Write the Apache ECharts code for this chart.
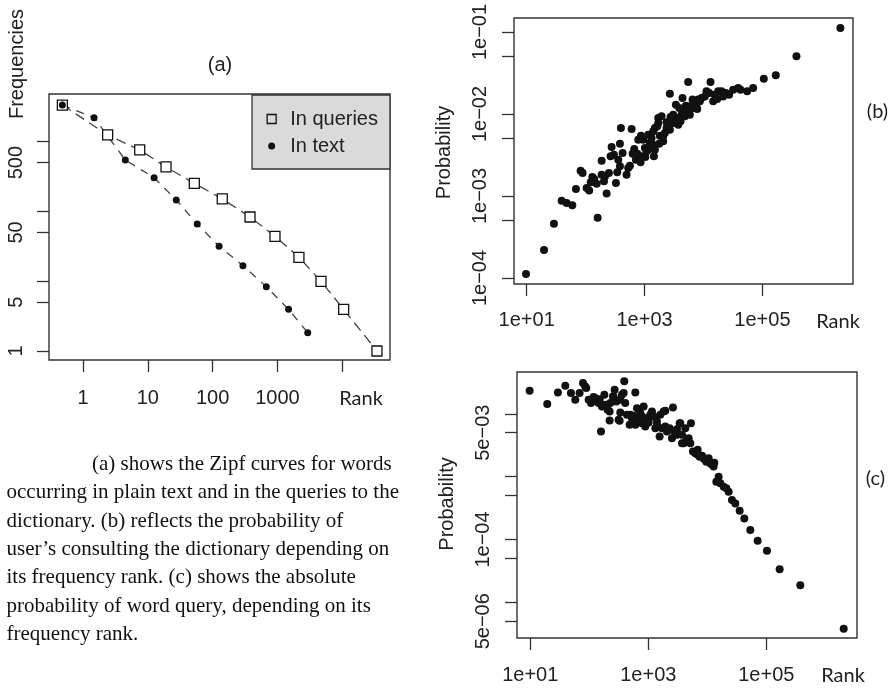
<!DOCTYPE html>
<html><head><meta charset="utf-8">
<script src="https://cdn.jsdelivr.net/npm/echarts@6/dist/echarts.min.js"></script>
<style>html,body{margin:0;padding:0;background:#fff}#c{width:892px;height:689px}</style>
</head><body><div id="c"></div>
<script>
// ---------- Panel (a): Zipf curves ----------
const rankQueries = [0.48, 2.4, 7.5, 19.1, 52.2, 141, 378, 918, 2150, 4710, 10540, 34400];
const freqQueries = [3340, 1245, 759, 433, 252, 151, 83.2, 44, 22, 9.95, 3.95, 1];
const rankText = [0.48, 1.48, 4.5, 12.5, 27.5, 58, 126, 294, 675, 1490, 2940];
const freqText = [3340, 2200, 545, 304, 146, 66, 31.6, 16.7, 8.34, 3.95, 1.83];
const tickA_x = [1, 10, 100, 1000, 10000];
const labelA_x = [1, 10, 100, 1000];
const tickA_y = [1, 5, 10, 50, 100, 500, 1000];
const labelA_y = [1, 5, 50, 500];

// ---------- Panel (b): probability of consulting vs rank ----------
const rankB = [9.75, 19.7, 29.0, 39.2, 47.6, 59.4, 68.5, 82.2, 88.9, 104, 115, 130, 140, 154, 160, 187, 187, 213, 227, 248,
  276, 265, 302, 327, 344, 382, 397, 424, 495, 528, 564, 603, 668, 713, 812, 925, 1026, 782, 867, 1153,
  1231, 1496, 1640, 1706, 5495, 13150, 2685, 105400, 168300, 4406, 3396, 11250, 12470, 9250, 10540, 15560, 17740, 20180, 23930, 27230,
  31840, 38730, 42360, 54950, 69500, 14590, 8670, 7600, 6683, 5861, 4519, 5152, 4236, 4831, 1941, 3062, 3483, 3062, 3724, 5861,
  1706, 1496, 1403, 2360, 2685, 2213, 2070, 1820, 948, 1403, 1153, 1014, 376700, 2100000, 358, 205, 122, 752, 855, 1081,
  1315, 1439, 1774, 2070, 2360, 2760, 3873, 5023, 8128, 17060, 21530, 7816, 6516, 4074, 382, 627];
const probB = [1.12e-4, 2.19e-4, 4.60e-4, 8.77e-4, 8.22e-4, 7.69e-4, 1.22e-3, 2.04e-3, 1.91e-3, 1.25e-3, 1.17e-3, 1.71e-3, 1.61e-3, 1.41e-3, 5.44e-4, 2.70e-3, 1.82e-3, 1.74e-3, 1.07e-3, 1.91e-3,
  3.96e-3, 3.05e-3, 3.19e-3, 1.44e-3, 1.95e-3, 4.35e-3, 6.75e-3, 3.34e-3, 1.82e-3, 2.19e-3, 2.34e-3, 6.56e-3, 3.74e-3, 2.77e-3, 2.99e-3, 3.05e-3, 2.99e-3, 4.86e-3, 5.44e-3, 5.60e-3,
  4.43e-3, 3.67e-3, 7.08e-3, 8.93e-3, 2.45e-2, 2.45e-2, 1.77e-2, 2.70e-2, 2.96e-2, 1.57e-2, 1.30e-2, 1.89e-2, 1.80e-2, 1.57e-2, 1.64e-2, 1.72e-2, 1.89e-2, 1.89e-2, 1.80e-2, 1.72e-2,
  1.98e-2, 2.07e-2, 1.98e-2, 1.89e-2, 2.07e-2, 1.43e-2, 1.43e-2, 1.30e-2, 1.18e-2, 1.24e-2, 1.13e-2, 1.08e-2, 9.82e-3, 9.38e-3, 9.38e-3, 9.82e-3, 8.93e-3, 7.76e-3, 7.41e-3, 9.82e-3,
  7.76e-3, 6.75e-3, 6.15e-3, 6.75e-3, 6.44e-3, 5.86e-3, 5.35e-3, 5.44e-3, 4.86e-3, 4.23e-3, 3.67e-3, 3.85e-3, 5.05e-2, 1.12e-1, 2.77e-3, 1.51e-3, 1.47e-3, 3.28e-3, 2.58e-3, 3.51e-3,
  5.09e-3, 3.05e-3, 4.35e-3, 4.65e-3, 7.91e-3, 9.18e-3, 1.18e-2, 1.26e-2, 1.50e-2, 1.52e-2, 1.64e-2, 1.15e-2, 1.50e-2, 8.15e-3, 2.30e-3, 3.28e-3];

// ---------- Panel (c): absolute probability of query vs rank ----------
const rankC = [9.75, 19.4, 29.4, 39.2, 48.9, 57.9, 68.5, 78.2, 88.9, 97.5, 107, 118, 135, 150, 158, 164, 180, 187, 205, 221,
  227, 252, 269, 287, 314, 335, 358, 392, 407, 435, 483, 528, 564, 603, 643, 686, 731, 782, 834, 889,
  948, 1014, 1081, 1153, 1230, 1315, 1403, 1556, 1596, 1706, 1820, 1941, 2070, 2301, 2518, 2618, 2761, 3062, 3396, 3724,
  3972, 4236, 4519, 4831, 5284, 5152, 5715, 6266, 6855, 7413, 8128, 8892, 9616, 10540, 11540, 12790, 13150, 15560, 14220, 16600,
  18920, 20990, 23010, 26180, 29850, 35320, 42360, 53580, 71290, 102600, 168300, 376700, 2050000,
  85.5, 126, 144, 258, 335, 382, 221, 327, 495, 782, 1403, 603, 1941, 3483, 3062, 3724, 6683, 8670];
const probC = [2.33e-2, 1.43e-2, 2.19e-2, 2.80e-2, 2.14e-2, 1.67e-2, 2.14e-2, 3.08e-2, 2.57e-2, 1.67e-2, 1.48e-2, 1.85e-2, 1.57e-2, 1.71e-2, 5.22e-3, 1.31e-2, 2.01e-2, 1.39e-2, 1.16e-2, 7.83e-3,
  1.48e-2, 1.89e-2, 2.42e-2, 1.57e-2, 8.02e-3, 1.05e-2, 2.01e-2, 3.28e-2, 1.48e-2, 9.64e-3, 6.67e-3, 8.53e-3, 9.29e-3, 2.19e-2, 1.23e-2, 8.02e-3, 1.03e-2, 7.10e-3, 1.31e-2, 6.28e-3,
  8.53e-3, 7.28e-3, 9.64e-3, 1.09e-2, 9.06e-3, 5.90e-3, 7.55e-3, 4.35e-3, 9.64e-3, 5.90e-3, 1.09e-2, 6.28e-3, 5.22e-3, 5.90e-3, 4.09e-3, 1.26e-2, 5.22e-3, 5.69e-3, 7.10e-3, 4.62e-3,
  3.40e-3, 5.90e-3, 3.85e-3, 4.09e-3, 7.10e-3, 3.40e-3, 2.51e-3, 2.36e-3, 2.67e-3, 2.08e-3, 2.14e-3, 1.89e-3, 1.73e-3, 1.96e-3, 1.59e-3, 1.45e-3, 1.67e-3, 1.00e-3, 8.32e-4, 7.83e-4,
  6.92e-4, 6.51e-4, 5.77e-4, 4.25e-4, 3.75e-4, 2.86e-4, 2.16e-4, 1.41e-4, 9.53e-5, 6.59e-5, 3.37e-5, 1.87e-5, 3.80e-6,
  2.73e-2, 1.78e-2, 1.48e-2, 1.89e-2, 1.67e-2, 2.14e-2, 1.09e-2, 7.73e-3, 9.64e-3, 9.06e-3, 6.67e-3, 6.67e-3, 1.12e-2, 7.10e-3, 4.62e-3, 3.40e-3, 2.27e-3, 1.96e-3];

const tickBC_x = [1e1, 1e3, 1e5];
const tickB_y = [1e-4, 5e-4, 1e-3, 5e-3, 1e-2, 5e-2, 1e-1];
const labelB_y = [1e-4, 1e-3, 1e-2, 1e-1];
const tickC_y = [5e-6, 1e-5, 5e-5, 1e-4, 5e-4, 1e-3, 5e-3, 1e-2];
const labelC_y = [5e-6, 1e-4, 5e-3];

const captionLines = [
  '(a) shows the Zipf curves for words',
  'occurring in plain text and in the queries to the',
  'dictionary. (b) reflects the probability of',
  'user\u2019s consulting the dictionary depending on',
  'its frequency rank. (c) shows the absolute',
  'probability of word query, depending on its',
  'frequency rank.'
];

// ---------- build ----------
const L = Math.log10;
const pairs = (xs, ys) => xs.map((x, i) => [L(x), L(ys[i])]);
const logs = arr => arr.map(L);
const SANS = '"Liberation Sans", Arial, sans-serif';
const CAL = 'Lato, "Open Sans", sans-serif';
const SERIF = '"Liberation Serif", "Times New Roman", serif';
const INK = '#222';

function sci(v) {
  const e = Math.floor(v + 1e-6);
  const m = Math.round(Math.pow(10, v - e));
  const a = Math.abs(e);
  return m + 'e' + (e < 0 ? '\u2212' : '+') + (a < 10 ? '0' + a : a);
}
function plain(v) { return String(Math.round(Math.pow(10, v))); }

function axis(gridIndex, min, max, ticks, labels, fmt, margin, rotate) {
  return {
    type: 'value', gridIndex, min, max, scale: true,
    axisLine: { show: false, onZero: false },
    splitLine: { show: false },
    axisTick: { show: true, length: 12, lineStyle: { color: '#333', width: 1.3 }, customValues: logs(ticks) },
    axisLabel: { customValues: logs(labels), formatter: fmt, fontFamily: SANS, fontSize: 20, color: INK, margin, rotate: rotate || 0 }
  };
}

const gridBase = { show: true, borderColor: '#333', borderWidth: 1.4, backgroundColor: 'transparent', containLabel: false, outerBoundsMode: 'none' };

const centered = { align: 'center', verticalAlign: 'middle', textAlign: 'center', textVerticalAlign: 'middle' };
function label(text, x, y, font, rot) {
  return { type: 'text', x, y, rotation: rot || 0, style: Object.assign({ text, font: '20px ' + font, fill: INK }, centered) };
}
const graphics = [
  label('(a)', 220, 65, SANS),
  label('Frequencies', 17.5, 64, SANS, Math.PI / 2),
  label('Probability', 444, 152.5, SANS, Math.PI / 2),
  label('Probability', 447, 504, SANS, Math.PI / 2),
  label('Rank', 361, 399, CAL),
  label('Rank', 838, 322, CAL),
  label('Rank', 843, 675.5, CAL),
  label('(b)', 877.5, 111.7, CAL),
  label('(c)', 875.5, 479, CAL)
];
const lineY = [464.6, 492.9, 521.2, 549.6, 577.9, 606.2, 634.6];
captionLines.forEach((t, i) => {
  graphics.push({ type: 'text', x: i === 0 ? 92 : 6.5, y: lineY[i],
    style: { text: t, font: '21px ' + SERIF, fill: '#111', align: 'left', verticalAlign: 'middle', textAlign: 'left', textVerticalAlign: 'middle' } });
});

const option = {
  animation: false,
  backgroundColor: '#fff',
  grid: [
    Object.assign({ left: 49, top: 94, width: 341, height: 266 }, gridBase),
    Object.assign({ left: 514, top: 18, width: 339, height: 266 }, gridBase),
    Object.assign({ left: 517, top: 372, width: 340, height: 266 }, gridBase)
  ],
  xAxis: [
    axis(0, -0.525, 4.738, tickA_x, labelA_x, plain, 28),
    axis(1, 0.785, 6.536, tickBC_x, tickBC_x, sci, 26),
    axis(2, 0.775, 6.537, tickBC_x, tickBC_x, sci, 27)
  ],
  yAxis: [
    axis(0, -0.129, 3.682, tickA_y, labelA_y, plain, 23, 90),
    axis(1, -4.073, -0.829, tickB_y, labelB_y, sci, 24, 90),
    axis(2, -5.568, -1.335, tickC_y, labelC_y, sci, 24, 90)
  ],
  legend: {
    left: 252, top: 95, orient: 'vertical', selectedMode: false, symbolKeepAspect: true,
    backgroundColor: '#dadada', borderColor: '#333', borderWidth: 1.3, borderRadius: 0,
    padding: [14, 12, 13, 14], itemGap: 7, itemWidth: 27, itemHeight: 10,
    textStyle: { fontFamily: SANS, fontSize: 20, color: INK, lineHeight: 20 },
    data: [
      { name: 'In queries', icon: 'path://M0,0M10,10M0.5,0.5H9.5V9.5H0.5Z', itemStyle: { color: '#dadada', borderColor: '#111', borderWidth: 1.3 } },
      { name: 'In text', icon: 'path://M0,0M10,10M8.5,5A3.5,3.5,0,1,1,1.5,5A3.5,3.5,0,1,1,8.5,5Z', itemStyle: { color: '#111', borderWidth: 0 } }
    ]
  },
  graphic: graphics,
  series: [
    { name: 'In queries', type: 'line', xAxisIndex: 0, yAxisIndex: 0, data: pairs(rankQueries, freqQueries),
      symbol: 'rect', symbolSize: 10, itemStyle: { color: '#fff', borderColor: '#111', borderWidth: 1.3 },
      lineStyle: { color: '#444', width: 1.3, type: [10, 6] }, emphasis: { disabled: true } },
    { name: 'In text', type: 'line', xAxisIndex: 0, yAxisIndex: 0, data: pairs(rankText, freqText),
      symbol: 'circle', symbolSize: 7, itemStyle: { color: '#111' },
      lineStyle: { color: '#444', width: 1.3, type: [8, 7] }, emphasis: { disabled: true } },
    { name: 'b', type: 'scatter', xAxisIndex: 1, yAxisIndex: 1, data: pairs(rankB, probB),
      symbol: 'circle', symbolSize: 8, itemStyle: { color: '#111', opacity: 1 }, emphasis: { disabled: true } },
    { name: 'c', type: 'scatter', xAxisIndex: 2, yAxisIndex: 2, data: pairs(rankC, probC),
      symbol: 'circle', symbolSize: 8, itemStyle: { color: '#111', opacity: 1 }, emphasis: { disabled: true } }
  ]
};
const chart = echarts.init(document.getElementById('c'), null, { renderer: 'canvas' });
chart.setOption(option);
</script></body></html>
